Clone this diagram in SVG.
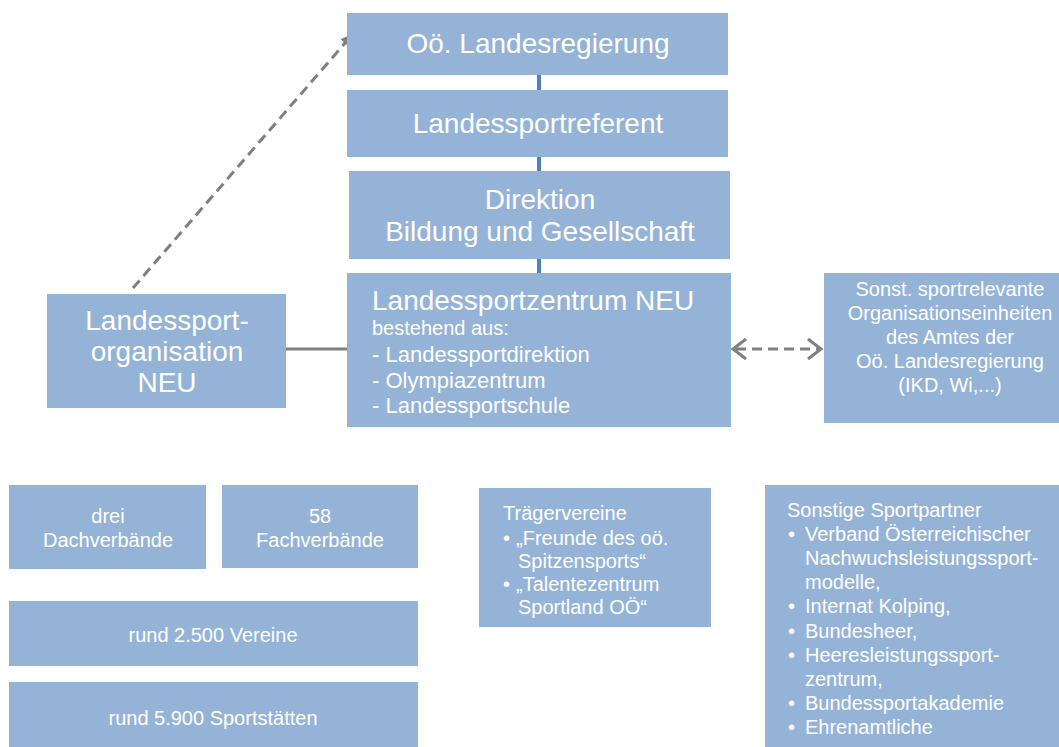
<svg xmlns="http://www.w3.org/2000/svg" width="1059" height="747" viewBox="0 0 1059 747">
<defs>
<style>
.box{fill:#95b3d7}
text{font-family:"Liberation Sans",Arial,sans-serif;fill:#ffffff}
.t28{font-size:28px}
.t22{font-size:22px}
.t20{font-size:20px}
.c{text-anchor:middle}
.blue{stroke:#4f81bd;stroke-width:4;fill:none}
.grey{stroke:#7f7f7f;stroke-width:3;fill:none}
.dash{stroke:#7f7f7f;stroke-width:3;fill:none;stroke-dasharray:10 6}
</style>
<marker id="arr" viewBox="0 0 10 10" refX="9" refY="5" markerWidth="4" markerHeight="4" orient="auto">
<path d="M0,0 L10,5 L0,10 z" fill="#7f7f7f"/>
</marker>
</defs>
<rect width="1059" height="747" fill="#ffffff"/>
<g id="connectors">
<line class="blue" x1="539" y1="75" x2="539" y2="90"/>
<line class="blue" x1="539" y1="157" x2="539" y2="171"/>
<line class="blue" x1="539" y1="259" x2="539" y2="273"/>
<line class="dash" x1="133" y1="288" x2="352" y2="35" marker-end="url(#arr)"/>
<line class="grey" x1="286" y1="349" x2="347" y2="349"/>
<line class="dash" x1="736" y1="349" x2="818" y2="349"/>
<polyline class="grey" points="746,339 733,349 746,359" stroke-width="3.5"/>
<polyline class="grey" points="808,339 821,349 808,359" stroke-width="3.5"/>
</g>
<g id="n-landesregierung">
<rect class="box" x="347" y="13" width="381" height="62"/>
<text class="t28 c" x="538" y="53">Oö. Landesregierung</text>
</g>
<g id="n-landessportreferent">
<rect class="box" x="347" y="90" width="381" height="67"/>
<text class="t28 c" x="538" y="133">Landessportreferent</text>
</g>
<g id="n-direktion">
<rect class="box" x="349" y="171" width="381" height="88"/>
<text class="t28 c" x="540" y="209">Direktion</text>
<text class="t28 c" x="540" y="241">Bildung und Gesellschaft</text>
</g>
<g id="n-landessportzentrum">
<rect class="box" x="347" y="273" width="384" height="154"/>
<text class="t28" x="372" y="310">Landessportzentrum NEU</text>
<text class="t20" x="372" y="335">bestehend aus:</text>
<text class="t22" x="372" y="362">- Landessportdirektion</text>
<text class="t22" x="372" y="388">- Olympiazentrum</text>
<text class="t22" x="372" y="413">- Landessportschule</text>
</g>
<g id="n-landessportorganisation">
<rect class="box" x="47" y="294" width="239" height="114"/>
<text class="t28 c" x="167" y="330">Landessport-</text>
<text class="t28 c" x="167" y="361">organisation</text>
<text class="t28 c" x="167" y="392">NEU</text>
</g>
<g id="n-sonst">
<rect class="box" x="824" y="273" width="235" height="150"/>
<text class="t20 c" x="950" y="296">Sonst. sportrelevante</text>
<text class="t20 c" x="950" y="320">Organisationseinheiten</text>
<text class="t20 c" x="950" y="344">des Amtes der</text>
<text class="t20 c" x="950" y="368">Oö. Landesregierung</text>
<text class="t20 c" x="950" y="392">(IKD, Wi,...)</text>
</g>
<g id="n-dachverbaende">
<rect class="box" x="9" y="485" width="197" height="84"/>
<text class="t20 c" x="108" y="523">drei</text>
<text class="t20 c" x="108" y="547">Dachverbände</text>
</g>
<g id="n-fachverbaende">
<rect class="box" x="222" y="485" width="196" height="83"/>
<text class="t20 c" x="320" y="523">58</text>
<text class="t20 c" x="320" y="547">Fachverbände</text>
</g>
<g id="n-vereine">
<rect class="box" x="9" y="601" width="409" height="65"/>
<text class="t20 c" x="213" y="642">rund 2.500 Vereine</text>
</g>
<g id="n-sportstaetten">
<rect class="box" x="9" y="682" width="409" height="65"/>
<text class="t20 c" x="213" y="725">rund 5.900 Sportstätten</text>
</g>
<g id="n-traegervereine">
<rect class="box" x="479" y="488" width="232" height="139"/>
<text class="t20" x="503" y="520">Trägervereine</text>
<text class="t20" x="503" y="545">•</text>
<text class="t20" x="516" y="545">„Freunde des oö.</text>
<text class="t20" x="518" y="568">Spitzensports“</text>
<text class="t20" x="503" y="591">•</text>
<text class="t20" x="516" y="591">„Talentezentrum</text>
<text class="t20" x="518" y="614">Sportland OÖ“</text>
</g>
<g id="n-sportpartner">
<rect class="box" x="765" y="485" width="294" height="262"/>
<text class="t20" x="787" y="517">Sonstige Sportpartner</text>
<text class="t20" x="788" y="541">•</text>
<text class="t20" x="805" y="541">Verband Österreichischer</text>
<text class="t20" x="805" y="565">Nachwuchsleistungssport-</text>
<text class="t20" x="805" y="589">modelle,</text>
<text class="t20" x="788" y="613">•</text>
<text class="t20" x="805" y="613">Internat Kolping,</text>
<text class="t20" x="788" y="638">•</text>
<text class="t20" x="805" y="638">Bundesheer,</text>
<text class="t20" x="788" y="662">•</text>
<text class="t20" x="805" y="662">Heeresleistungssport-</text>
<text class="t20" x="805" y="686">zentrum,</text>
<text class="t20" x="788" y="710">•</text>
<text class="t20" x="805" y="710">Bundessportakademie</text>
<text class="t20" x="788" y="734">•</text>
<text class="t20" x="805" y="734">Ehrenamtliche</text>
</g>
</svg>
